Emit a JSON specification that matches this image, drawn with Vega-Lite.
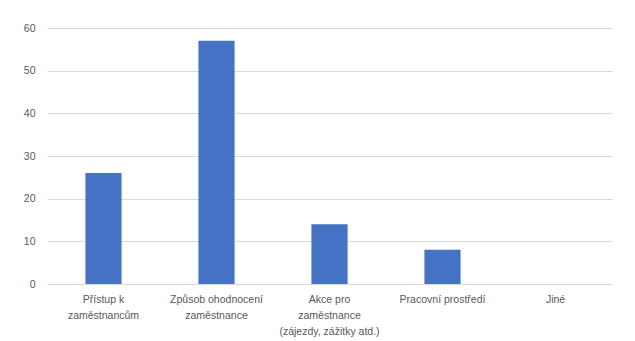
{
  "$schema": "https://vega.github.io/schema/vega-lite/v6.json",
  "autosize": "none",
  "width": 565,
  "height": 256,
  "padding": {"left": 47, "top": 28, "right": 23, "bottom": 57},
  "background": "white",
  "data": {
    "values": [
      {"kategorie": "Přístup k\nzaměstnancům", "pocet": 26},
      {"kategorie": "Způsob ohodnocení\nzaměstnance", "pocet": 57},
      {"kategorie": "Akce pro\nzaměstnance\n(zájezdy, zážitky atd.)", "pocet": 14},
      {"kategorie": "Pracovní prostředí", "pocet": 8},
      {"kategorie": "Jiné", "pocet": 0}
    ]
  },
  "mark": {"type": "bar", "color": "#4472C4"},
  "encoding": {
    "x": {
      "field": "kategorie",
      "type": "nominal",
      "sort": null,
      "title": null,
      "scale": {"paddingInner": 0.68, "paddingOuter": 0.34},
      "axis": {
        "labelAngle": 0,
        "labelExpr": "split(datum.label, '\\n')",
        "labelPadding": 10,
        "labelLineHeight": 16,
        "labelBaseline": "top",
        "domain": false,
        "ticks": false,
        "labelFont": "Liberation Sans",
        "labelFontSize": 10.5,
        "labelColor": "#595959"
      }
    },
    "y": {
      "field": "pocet",
      "type": "quantitative",
      "title": null,
      "scale": {"domain": [0, 60], "nice": false},
      "axis": {
        "values": [0, 10, 20, 30, 40, 50, 60],
        "domain": false,
        "ticks": false,
        "labelPadding": 12,
        "labelFont": "Liberation Sans",
        "labelFontSize": 10.5,
        "labelColor": "#595959",
        "gridColor": "#d9d9d9",
        "gridWidth": 1
      }
    }
  },
  "config": {"view": {"stroke": null}}
}
